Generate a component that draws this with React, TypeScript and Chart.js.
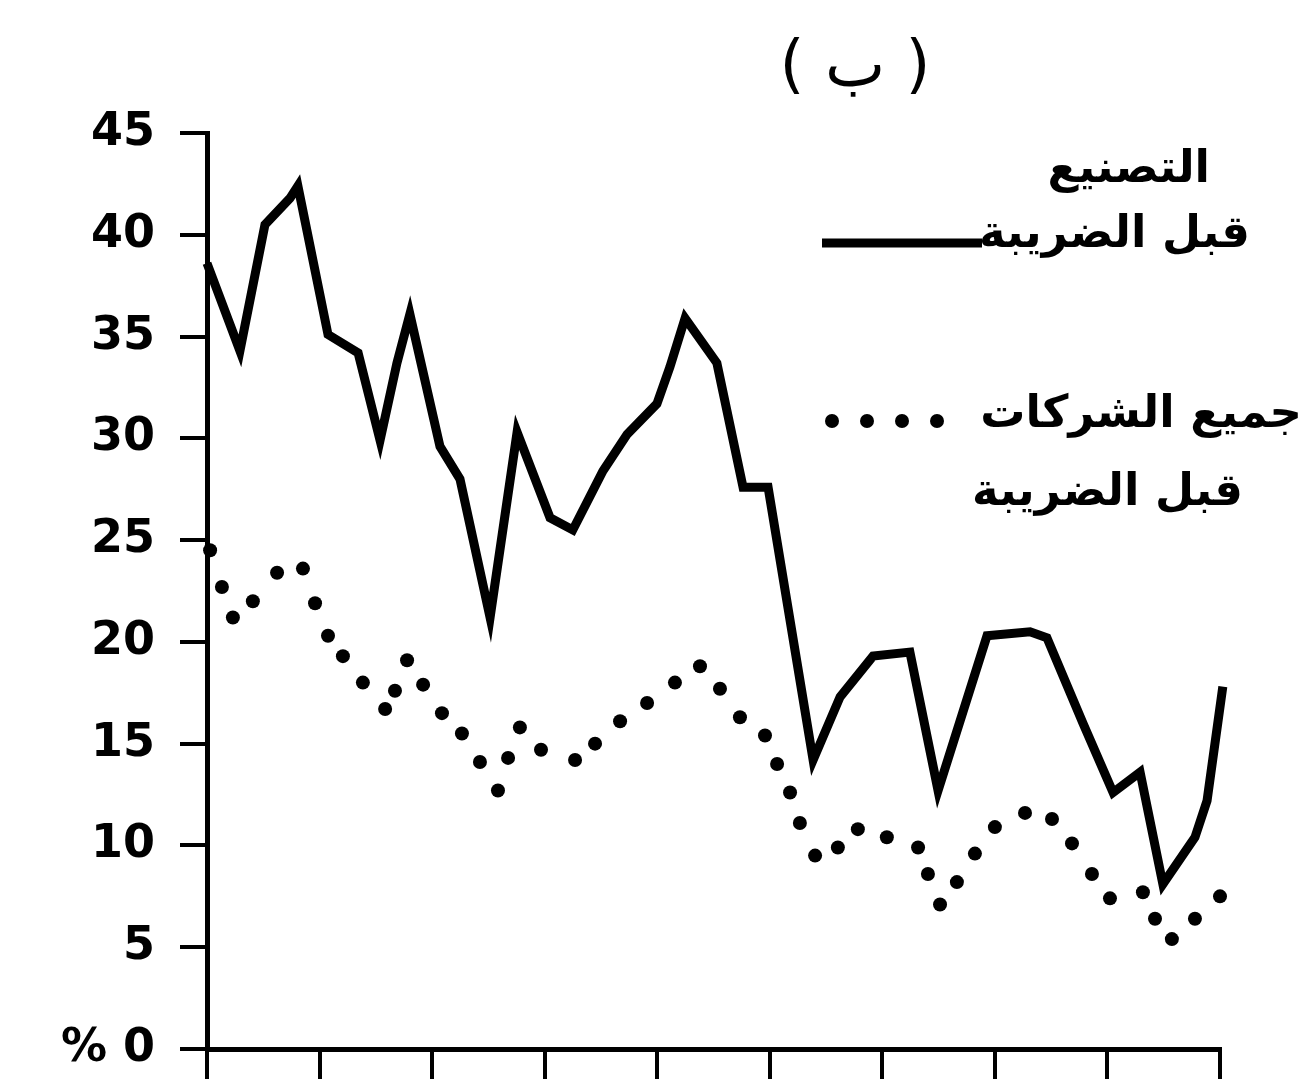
import React, { useEffect, useRef } from "react";
import { Chart, registerables } from "chart.js";

Chart.register(...registerables);

// Horizontal position (in 36-unit axis steps, ticks every 4) and value (%) of the solid line's vertices
const manufX = [0, 1.17, 2.06, 2.95, 3.23, 4.3, 5.37, 6.15, 6.75, 7.21, 8.28, 8.99, 10.06, 11.02, 12.19, 13.0, 14.07, 14.93, 15.99, 16.45, 16.99, 18.12, 19.05, 19.94, 21.54, 22.5, 23.67, 24.98, 25.98, 27.72, 29.25, 29.85, 31.13, 32.2, 33.16, 33.97, 35.11, 35.54, 36.1];
const manufY = [38.6, 34.3, 40.5, 41.8, 42.4, 35.1, 34.2, 29.9, 33.7, 36.1, 29.6, 28.0, 21.2, 30.3, 26.1, 25.5, 28.4, 30.2, 31.7, 33.5, 35.9, 33.7, 27.6, 27.6, 14.2, 17.3, 19.3, 19.5, 12.7, 20.3, 20.5, 20.2, 16.0, 12.6, 13.6, 8.1, 10.4, 12.2, 17.8];

// Dotted series (all companies, before tax): one entry per dot
const allX = [0.11, 0.53, 0.92, 1.63, 2.49, 3.41, 3.84, 4.3, 4.83, 5.54, 6.33, 6.68, 7.11, 7.68, 8.35, 9.06, 9.7, 10.34, 10.7, 11.12, 11.87, 13.08, 13.79, 14.68, 15.64, 16.63, 17.52, 18.23, 18.94, 19.83, 20.26, 20.72, 21.07, 21.61, 22.42, 23.13, 24.16, 25.27, 25.62, 26.05, 26.65, 27.29, 28.0, 29.07, 30.03, 30.74, 31.45, 32.09, 33.26, 33.69, 34.29, 35.11, 36.0];
const allY = [24.5, 22.7, 21.2, 22.0, 23.4, 23.6, 21.9, 20.3, 19.3, 18.0, 16.7, 17.6, 19.1, 17.9, 16.5, 15.5, 14.1, 12.7, 14.3, 15.8, 14.7, 14.2, 15.0, 16.1, 17.0, 18.0, 18.8, 17.7, 16.3, 15.4, 14.0, 12.6, 11.1, 9.5, 9.9, 10.8, 10.4, 9.9, 8.6, 7.1, 8.2, 9.6, 10.9, 11.6, 11.3, 10.1, 8.6, 7.4, 7.7, 6.4, 5.4, 6.4, 7.5];

const yTicks = [0, 5, 10, 15, 20, 25, 30, 35, 40, 45];

const titleText = "( ب )";
const legend1a = "التصنيع";
const legend1b = "قبل الضريبة";
const legend2a = "جميع الشركات";
const legend2b = "قبل الضريبة";

const arabicFont = "'DejaVu Sans', 'Noto Sans', sans-serif";

const legendPlugin = {
  id: "arabicLegend",
  afterDraw(chart: any) {
    const ctx = chart.ctx as CanvasRenderingContext2D;
    ctx.save();
    ctx.fillStyle = "#000";
    ctx.strokeStyle = "#000";
    ctx.textBaseline = "alphabetic";
    // title
    ctx.font = `64px ${arabicFont}`;
    ctx.textAlign = "center";
    ctx.fillText(titleText, 855, 86);
    // legend texts
    ctx.direction = "rtl";
    ctx.textAlign = "right";
    ctx.font = `bold 45px ${arabicFont}`;
    ctx.fillText(legend1a, 1210, 182);
    ctx.fillText(legend1b, 1250, 247);
    ctx.fillText(legend2a, 1302, 427);
    ctx.fillText(legend2b, 1243, 505);
    // solid sample
    ctx.lineWidth = 9;
    ctx.beginPath();
    ctx.moveTo(822, 243);
    ctx.lineTo(982, 243);
    ctx.stroke();
    // dotted sample
    [832, 867, 902, 937].forEach((x) => {
      ctx.beginPath();
      ctx.arc(x, 421, 7, 0, Math.PI * 2);
      ctx.fill();
    });
    ctx.restore();
  },
};

export default function App() {
  const ref = useRef<HTMLCanvasElement | null>(null);
  useEffect(() => {
    document.body.style.margin = "0";
    const canvas = ref.current;
    if (!canvas) return;
    const chart = new Chart(canvas, {
      type: "line",
      data: {
        datasets: [
          {
            label: legend1b,
            data: manufX.map((x, i) => ({ x, y: manufY[i] })),
            borderColor: "#000",
            borderWidth: 9,
            pointRadius: 0,
            tension: 0,
            fill: false,
            clip: false as any,
          },
          {
            label: legend2a,
            data: allX.map((x, i) => ({ x, y: allY[i] })),
            showLine: false,
            pointRadius: 7,
            pointStyle: "circle",
            backgroundColor: "#000",
            borderWidth: 0,
            clip: false as any,
          },
        ],
      },
      options: {
        responsive: false,
        animation: false,
        devicePixelRatio: 1,
        layout: { padding: { left: 0, right: 85, top: 133, bottom: 0 } },
        plugins: { legend: { display: false }, title: { display: false }, tooltip: { enabled: false } },
        scales: {
          x: {
            type: "linear",
            min: 0,
            max: 36,
            ticks: { stepSize: 4, display: false },
            grid: { drawOnChartArea: false, drawTicks: true, tickLength: 30, color: "#000", lineWidth: 4 },
            border: { display: true, color: "#000", width: 5 },
            afterFit: (s: any) => {
              s.height = 35;
              s.paddingLeft = 0;
              s.paddingRight = 0;
            },
          },
          y: {
            type: "linear",
            min: 0,
            max: 45,
            afterBuildTicks: (s: any) => {
              s.ticks = yTicks.map((v) => ({ value: v }));
            },
            ticks: {
              color: "#000",
              padding: 25,
              font: { family: "'DejaVu Sans', sans-serif", size: 46, weight: "bold" },
              callback: (v: any) => (v === 0 ? "% 0" : String(v)),
            },
            grid: { drawOnChartArea: false, drawTicks: true, tickLength: 27, color: "#000", lineWidth: 4 },
            border: { display: true, color: "#000", width: 5 },
            afterFit: (s: any) => {
              s.width = 207;
              s.paddingTop = 0;
              s.paddingBottom = 0;
            },
          },
        },
      },
      plugins: [legendPlugin],
    });
    return () => chart.destroy();
  }, []);
  return <canvas ref={ref} width={1305} height={1084} style={{ display: "block" }} />;
}
